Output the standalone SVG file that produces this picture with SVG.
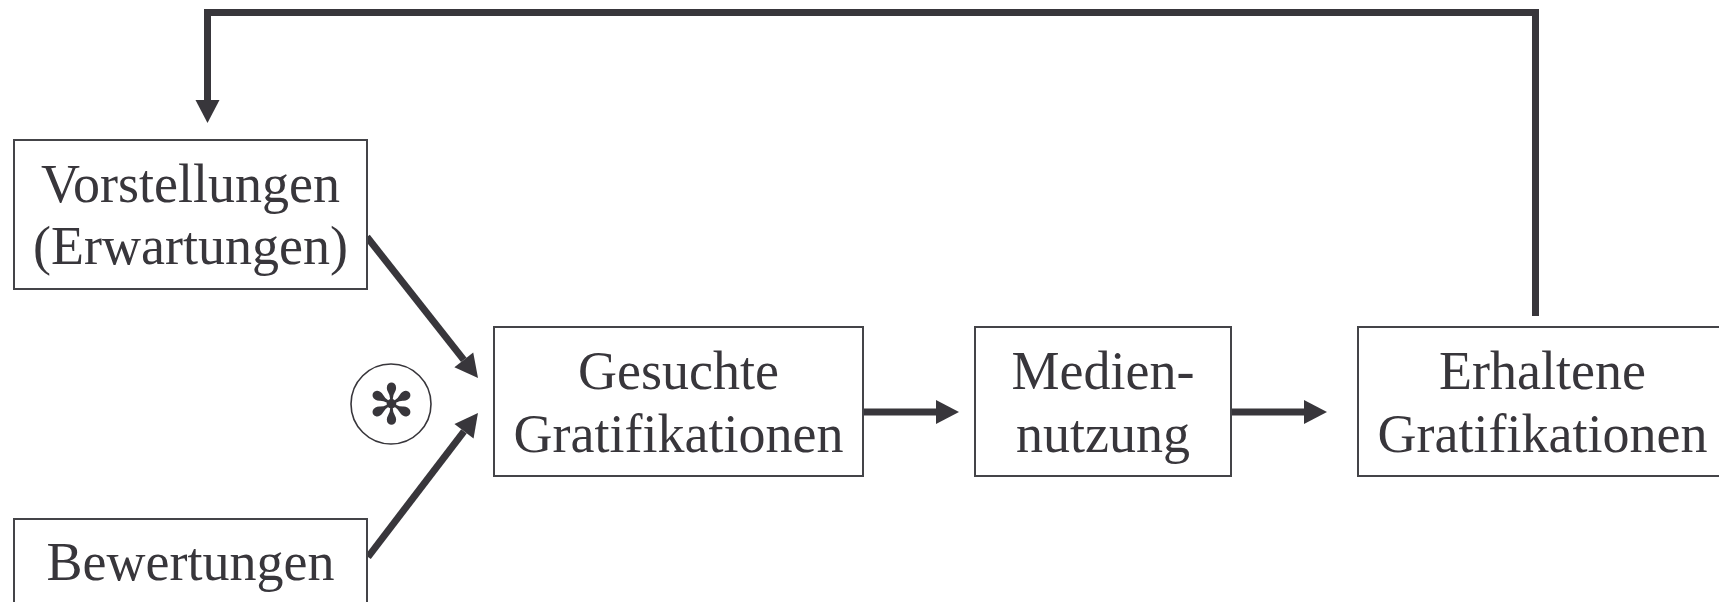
<svg xmlns="http://www.w3.org/2000/svg" width="1719" height="602" viewBox="0 0 1719 602">
  <defs>
    <marker id="head" markerUnits="userSpaceOnUse" markerWidth="24" markerHeight="26" refX="0" refY="12" orient="auto" overflow="visible">
      <path d="M0,0 L23,12 L0,24 Z" fill="#38363b"/>
    </marker>
    <style>
      .box { fill: #ffffff; stroke: #444448; stroke-width: 2; }
      .lbl { font-family: "Liberation Serif", "Times New Roman", serif; font-size: 54px; fill: #38363b; text-anchor: middle; }
      .conn { fill: none; stroke: #38363b; stroke-width: 7; stroke-linejoin: miter; stroke-linecap: butt; }
    </style>
  </defs>
  <rect width="1719" height="602" fill="#ffffff"/>

  <!-- connectors -->
  <g id="connectors">
    <path class="conn" d="M1535.5,316 V12.5 H207.5 V100" marker-end="url(#head)"/>
    <path class="conn" d="M367,237 L463.8,359.9" marker-end="url(#head)"/>
    <path class="conn" d="M368,557 L464,431.3" marker-end="url(#head)"/>
    <path class="conn" d="M863,412 H936" marker-end="url(#head)"/>
    <path class="conn" d="M1231,412 H1304" marker-end="url(#head)"/>
  </g>

  <!-- nodes -->
  <g id="vorstellungen">
    <rect class="box" x="14" y="140" width="353" height="149"/>
    <text class="lbl" x="190.5" y="202">Vorstellungen</text>
    <text class="lbl" x="190.5" y="264">(Erwartungen)</text>
  </g>

  <g id="bewertungen">
    <rect class="box" x="14" y="519" width="353" height="120"/>
    <text class="lbl" x="190.5" y="580">Bewertungen</text>
  </g>

  <!-- multiplicative link between expectations and evaluations -->
  <g id="verknuepfung">
    <circle cx="391" cy="404" r="40" fill="#ffffff" stroke="#38363b" stroke-width="1.6"/>
    <text x="391.5" y="424" font-family="'DejaVu Sans', sans-serif" font-size="56" fill="#38363b" text-anchor="middle">✻</text>
  </g>

  <g id="gesuchte">
    <rect class="box" x="494" y="327" width="369" height="149"/>
    <text class="lbl" x="678.5" y="389">Gesuchte</text>
    <text class="lbl" x="678.5" y="452">Gratifikationen</text>
  </g>

  <g id="mediennutzung">
    <rect class="box" x="975" y="327" width="256" height="149"/>
    <text class="lbl" x="1103" y="389">Medien-</text>
    <text class="lbl" x="1103" y="452">nutzung</text>
  </g>

  <g id="erhaltene">
    <rect class="box" x="1358" y="327" width="369" height="149"/>
    <text class="lbl" x="1542.5" y="389">Erhaltene</text>
    <text class="lbl" x="1542.5" y="452">Gratifikationen</text>
  </g>
</svg>
